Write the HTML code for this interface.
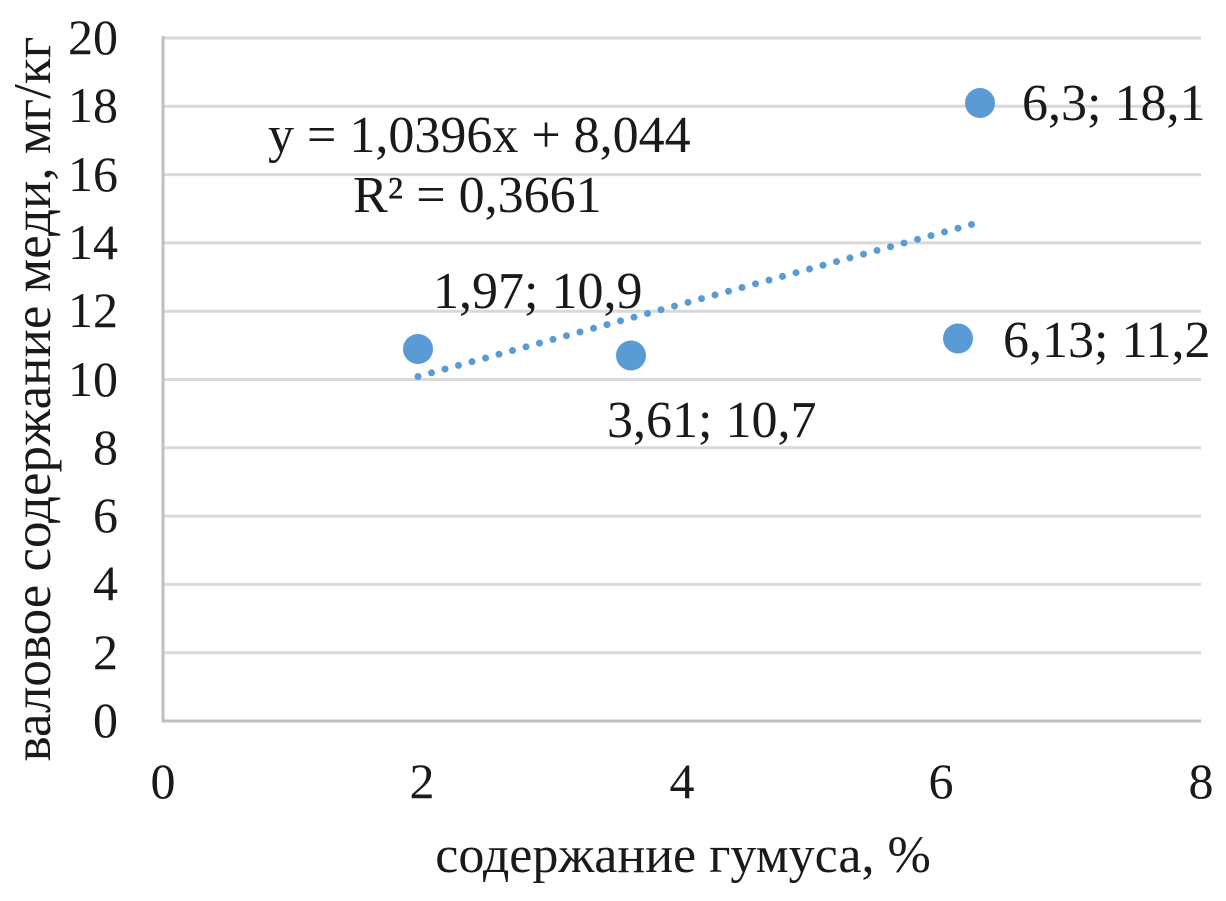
<!DOCTYPE html>
<html><head><meta charset="utf-8"><style>
html,body{margin:0;padding:0;background:#fff;}
svg text{font-family:"Liberation Serif",serif;fill:#1a1a1a;}
</style></head><body>
<svg width="1226" height="896" viewBox="0 0 1226 896" xmlns="http://www.w3.org/2000/svg">
<g stroke="#d9d9d9" stroke-width="3">
<line x1="162" y1="38" x2="1201" y2="38"/>
<line x1="162" y1="106.3" x2="1201" y2="106.3"/>
<line x1="162" y1="174.6" x2="1201" y2="174.6"/>
<line x1="162" y1="242.9" x2="1201" y2="242.9"/>
<line x1="162" y1="311.2" x2="1201" y2="311.2"/>
<line x1="162" y1="379.5" x2="1201" y2="379.5"/>
<line x1="162" y1="447.8" x2="1201" y2="447.8"/>
<line x1="162" y1="516.1" x2="1201" y2="516.1"/>
<line x1="162" y1="584.4" x2="1201" y2="584.4"/>
<line x1="162" y1="652.7" x2="1201" y2="652.7"/>
</g>
<g stroke="#bfbfbf" stroke-width="3">
<line x1="162" y1="721" x2="1201" y2="721"/>
<line x1="163" y1="36" x2="163" y2="722"/>
</g>
<g font-size="50" text-anchor="end">
<text x="118" y="54">20</text><text x="118" y="122">18</text><text x="118" y="191">16</text>
<text x="118" y="259">14</text><text x="118" y="327">12</text><text x="118" y="396">10</text>
<text x="118" y="464">8</text><text x="118" y="532">6</text><text x="118" y="600">4</text>
<text x="118" y="669">2</text><text x="118" y="737">0</text>
</g>
<g font-size="50" text-anchor="middle">
<text x="163" y="798">0</text><text x="422" y="798">2</text><text x="682" y="798">4</text>
<text x="941" y="798">6</text><text x="1201" y="798">8</text>
<text x="683" y="872" font-size="52">содержание гумуса, %</text>
</g>
<text font-size="53" text-anchor="middle" transform="translate(50,399) rotate(-90)">валовое содержание меди, мг/кг</text>
<line x1="418" y1="376.5" x2="977" y2="223" stroke="#5b9bd5" stroke-width="7" stroke-linecap="round" stroke-dasharray="0 14"/>
<g fill="#5b9bd5">
<circle cx="418" cy="349" r="15"/>
<circle cx="631" cy="355.5" r="15"/>
<circle cx="980" cy="103" r="15"/>
<circle cx="958" cy="338.5" r="15"/>
</g>
<g font-size="52">
<text x="268" y="152">y = 1,0396x + 8,044</text>
<text x="353" y="212">R² = 0,3661</text>
<text x="433" y="308">1,97; 10,9</text>
<text x="607" y="437">3,61; 10,7</text>
<text x="1022" y="120">6,3; 18,1</text>
<text x="1003" y="357">6,13; 11,2</text>
</g>
</svg>
</body></html>
